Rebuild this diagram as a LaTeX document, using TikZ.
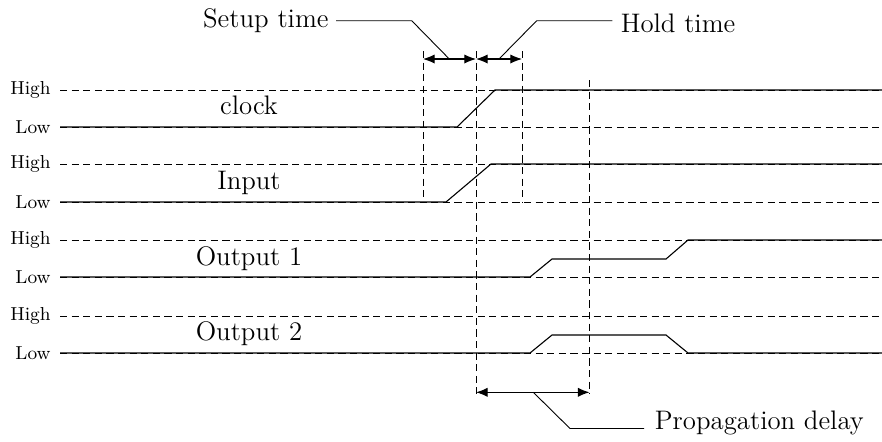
\documentclass[tikz,border=0pt]{standalone}
\usetikzlibrary{arrows.meta}
\begin{document}
\begin{tikzpicture}[x=0.5pt,y=-0.5pt,
  sig/.style={line width=0.55pt},
  guide/.style={line width=0.45pt,dash pattern=on 3.6pt off 2.2pt},
  lvl/.style={font=\fontsize{9.4}{11}\selectfont,anchor=east,inner sep=0pt},
  main/.style={font=\fontsize{13.4}{15}\selectfont},
  meas/.style={line width=0.55pt,{Latex[length=5.8pt,width=4.6pt]}-{Latex[length=5.8pt,width=4.6pt]}},
  leader/.style={line width=0.45pt}]
\useasboundingbox (0,0) rectangle (882,441);
% level lines and labels
\foreach \n/\hy/\ly in {a/90/127, b/164/202, c/240/277, d/316/353}{
  \coordinate (h\n0) at (60,\hy); \coordinate (h\n1) at (882,\hy);
  \coordinate (l\n0) at (60,\ly); \coordinate (l\n1) at (882,\ly);
  \draw[guide] (h\n0) -- (h\n1);
  \draw[guide] (l\n0) -- (l\n1);
  \node[lvl] (H\n) at (51,\hy) {High};
  \node[lvl] (L\n) at (51,\ly) {Low};
}
% signal names
\node[main,anchor=base] (nclk) at (249,114) {clock};
\node[main,anchor=base] (ninp) at (249,189) {Input};
\node[main,anchor=base] (no1) at (249,265) {Output 1};
\node[main,anchor=base] (no2) at (249,340) {Output 2};
% signals
\coordinate (c1) at (457,127); \coordinate (c2) at (495,90);
\draw[sig] (la0) -- (c1) -- (c2) -- (ha1);
\coordinate (i1) at (446,202); \coordinate (i2) at (491,164);
\draw[sig] (lb0) -- (i1) -- (i2) -- (hb1);
\coordinate (o1) at (530,277); \coordinate (o2) at (552,259);
\coordinate (o3) at (666,259); \coordinate (o4) at (688,240);
\draw[sig] (lc0) -- (o1) -- (o2) -- (o3) -- (o4) -- (hc1);
\coordinate (p1) at (530,353); \coordinate (p2) at (552,335);
\coordinate (p3) at (666,335); \coordinate (p4) at (688,353);
\draw[sig] (ld0) -- (p1) -- (p2) -- (p3) -- (p4) -- (ld1);
% vertical guides
\coordinate (v1t) at (423,51); \coordinate (v1b) at (423,202);
\coordinate (v2t) at (476,51); \coordinate (v2b) at (476,394);
\coordinate (v3t) at (522,51); \coordinate (v3b) at (522,202);
\coordinate (v4t) at (589.5,80); \coordinate (v4b) at (589.5,394);
\draw[guide] (v1t) -- (v1b);
\draw[guide] (v2t) -- (v2b);
\draw[guide] (v3t) -- (v3b);
\draw[guide] (v4t) -- (v4b);
% measurement arrows
\coordinate (m1) at (423,59); \coordinate (m2) at (476,59); \coordinate (m3) at (522,59);
\draw[meas] (m1) -- (m2);
\draw[meas] (m2) -- (m3);
\coordinate (m4) at (476,392.3); \coordinate (m5) at (589.5,392.3);
\draw[meas] (m4) -- (m5);
% annotations
\node[main,anchor=east] (setup) at (335.6,20.7) {Setup time};
\node[main,anchor=west] (hold) at (613.8,23.3) {Hold time};
\node[main,anchor=west] (prop) at (647.8,423.3) {Propagation delay};
\coordinate (sa) at (449.3,59); \coordinate (sb) at (411.7,20.7); \coordinate (sc) at (336,20.7);
\draw[leader] (sa) -- (sb) -- (sc);
\coordinate (ha) at (499,59); \coordinate (hb) at (536.7,20.7); \coordinate (hc) at (612.3,20.7);
\draw[leader] (ha) -- (hb) -- (hc);
\coordinate (pa) at (533.3,392.3); \coordinate (pb) at (570,428.5); \coordinate (pc) at (644,428.5);
\draw[leader] (pa) -- (pb) -- (pc);
\end{tikzpicture}
\end{document}
